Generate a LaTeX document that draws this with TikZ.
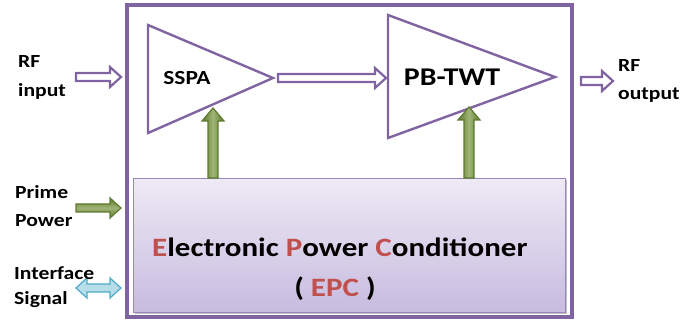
\documentclass[tikz,border=0pt]{standalone}
\usepackage{fontspec}
\setmainfont[FakeStretch=1.17]{Carlito}
\usetikzlibrary{calc}
\definecolor{vio}{HTML}{8064A2}
\definecolor{epctop}{HTML}{EEEAF5}
\definecolor{epcbot}{HTML}{C7BBDF}
\definecolor{epcline}{HTML}{9886BE}
\definecolor{grn}{HTML}{77933C}
\definecolor{grnd}{HTML}{5E7A2E}
\definecolor{blu}{HTML}{B7DEE8}
\definecolor{blud}{HTML}{4BACC6}
\definecolor{red}{HTML}{C0504D}
\tikzset{
  amp/.style={draw=vio, line width=2.4pt, line join=miter},
  hollow/.style={draw=vio, fill=white, line width=2.2pt, line join=miter},
  power/.style={draw=grnd, left color=grnd, right color=grnd, middle color=grn!70, line width=1.2pt, line join=miter},
  iface/.style={draw=blud, fill=blu, line width=1.2pt, line join=miter},
  lbl/.style={font=\fontsize{18.5}{22}\selectfont\bfseries, inner sep=0pt, anchor=base west},
}
% horizontal right arrow: x1, x2, y, style
\newcommand{\rarrow}[4]{%
  \draw[#4] (#1,{#3-4}) -- ({#2-11},{#3-4}) -- ({#2-11},{#3-10}) -- (#2,#3)
    -- ({#2-11},{#3+10}) -- ({#2-11},{#3+4}) -- (#1,{#3+4}) -- cycle;}
% vertical up arrow: x, ybottom, ytop, style
\newcommand{\uarrow}[4]{%
  \draw[#4] ({#1-5},#2) -- ({#1-5},{#3+13}) -- ({#1-11},{#3+13}) -- (#1,#3)
    -- ({#1+11},{#3+13}) -- ({#1+5},{#3+13}) -- ({#1+5},#2) -- cycle;}
\begin{document}
\begin{tikzpicture}[x=1pt,y=-1pt]
\useasboundingbox (0,0) rectangle (686,320);
% outer box
\draw[vio, line width=3.2pt] (127,5) rectangle (572,317);
% EPC box
\fill[black!25] (135,180) rectangle (567,314);
\node[draw=epcline, line width=1pt, top color=epctop, bottom color=epcbot,
      minimum width=432pt, minimum height=134pt, anchor=north west, inner sep=0pt] (epc) at (133,178) {};
\node[font=\fontsize{26.5}{32}\selectfont\bfseries, inner sep=0pt, anchor=base west] (epct1) at (152,257)
  {\textcolor{red}{E}lectronic \textcolor{red}{P}ower \textcolor{red}{C}onditioner};
\node[font=\fontsize{26.5}{32}\selectfont\bfseries, inner sep=0pt, anchor=base] (epct2) at (335,297)
  {( \textcolor{red}{EPC} )};
% amplifiers
\draw[amp] (148,25) -- (273,78) -- (148,133) -- cycle;
\coordinate (sspatip) at (273,78);
\node[font=\fontsize{20}{24}\selectfont\bfseries, inner sep=0pt, anchor=base] (sspa) at (187,85) {SSPA};
\draw[amp] (388,15) -- (555,77) -- (388,138) -- cycle;
\coordinate (twtleft) at (388,78);
\node[font=\fontsize{25.5}{30}\selectfont\bfseries, inner sep=0pt, anchor=base] (twt) at (452,86) {PB-TWT};
% RF arrows
\rarrow{278}{386}{78}{hollow}
\rarrow{76}{121}{77}{hollow}
\rarrow{581}{613}{81}{hollow}
% power arrows
\uarrow{213}{178}{108}{power}
\uarrow{469}{178}{107}{power}
\draw[draw=grnd, top color=grnd, bottom color=grnd, middle color=grn!70, line width=1.2pt, line join=miter]
  (76,204) -- (110,204) -- (110,198) -- (121,208) -- (110,218) -- (110,212) -- (76,212) -- cycle;
% interface arrow
\draw[iface] (76,288) -- (87,278) -- (87,284) -- (110,284) -- (110,278) -- (121,288)
  -- (110,298) -- (110,292) -- (87,292) -- (87,298) -- cycle;
% labels
\node[lbl] (rf1) at (18,68) {RF};
\node[lbl] (rf2) at (18,97) {input};
\node[lbl] (ro1) at (618,72) {RF};
\node[lbl] (ro2) at (618,100) {output};
\node[lbl] (pp1) at (15,199) {Prime};
\node[lbl] (pp2) at (15,227) {Power};
\node[lbl] (is1) at (14,280) {Interface};
\node[lbl] (is2) at (14,305) {Signal};
\end{tikzpicture}
\end{document}
